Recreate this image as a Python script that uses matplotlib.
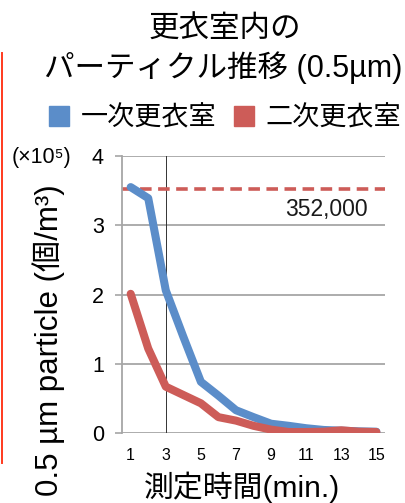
import matplotlib
matplotlib.use("Agg")
import matplotlib.pyplot as plt
from matplotlib.lines import Line2D

plt.rcParams['font.family'] = ['Liberation Sans', 'Noto Sans CJK JP', 'DejaVu Sans']

# measurement time (min.)
minutes = list(range(1, 16))
# particle counts, x10^5 per m^3
first_room = [3.55, 3.39, 2.06, 1.39, 0.74, 0.54, 0.33, 0.23, 0.135, 0.105, 0.07, 0.045, 0.035, 0.025, 0.02]
second_room = [2.01, 1.22, 0.67, 0.55, 0.43, 0.23, 0.18, 0.105, 0.05, 0.015, 0.015, 0.02, 0.04, 0.02, 0.015]
series_names = ['一次更衣室', '二次更衣室']
limit_value = 352000
x_ticks = [1, 3, 5, 7, 9, 11, 13, 15]
y_ticks = [0, 1, 2, 3, 4]

blue = '#5B8DC9'
red = '#CD5C58'
grid_gray = '#A6A6A6'

fig = plt.figure(figsize=(4.05, 5.03), dpi=100)
ax = fig.add_axes([0.301, 0.139, 0.650, 0.551])

for y in y_ticks:
    ax.axhline(y, color=grid_gray, lw=1.3, zorder=1)
ax.axvline(3, color='#333333', lw=0.7, zorder=2)

ax.plot(minutes, first_room, color=blue, lw=5.8, solid_capstyle='round',
        solid_joinstyle='round', zorder=3)
ax.plot(minutes, second_room, color=red, lw=5.8, solid_capstyle='round',
        solid_joinstyle='round', zorder=3)
ax.axhline(limit_value / 1e5, color=red, lw=2.6, ls=(0, (3.2, 1.8)), zorder=2)
ax.text(14.5, limit_value / 1e5 - 0.13, f'{limit_value:,}', ha='right', va='top',
        fontsize=16.5, color='#1a1a1a')

ax.set_xlim(0.5, 15.5)
ax.set_ylim(0, 4)
ax.set_xticks(x_ticks)
ax.set_yticks(y_ticks)
ax.tick_params(axis='x', length=0, labelsize=11.5, pad=11)
ax.tick_params(axis='y', length=5, width=1.2, color=grid_gray, labelsize=15.5, pad=8)
for side in ['top', 'right', 'bottom']:
    ax.spines[side].set_visible(False)
ax.spines['left'].set_color(grid_gray)
ax.spines['left'].set_linewidth(1.3)

ax.set_xlabel('測定時間(min.)', fontsize=21.5)
ax.xaxis.set_label_coords(0.455, -0.138)
ax.set_ylabel('0.5 µm particle (個/m³)', fontsize=22.5)
ax.yaxis.set_label_coords(-0.215, 0.335)
fig.text(0.028, 0.686, '(×10⁵)', fontsize=15.5, ha='left', va='center')

fig.text(0.556, 0.94, '更衣室内の', fontsize=22, ha='center', va='center')
fig.text(0.551, 0.865, 'パーティクル推移 (0.5µm)', fontsize=22, ha='center', va='center')

handles = [Line2D([], [], ls='none', marker='s', markersize=14, color=c) for c in (blue, red)]
fig.legend(handles, series_names, loc='center', bbox_to_anchor=(0.555, 0.765), ncol=2,
           frameon=False, fontsize=19.5, handlelength=0.8, handletextpad=0.4,
           columnspacing=0.6, borderpad=0)

# red frame edge along the left side
fig.add_artist(Line2D([0.004, 0.004], [1 - 53 / 503, 1 - 463 / 503],
                      transform=fig.transFigure, color='#FF3A1E', lw=1.4))

fig.savefig('out.png', dpi=100)
